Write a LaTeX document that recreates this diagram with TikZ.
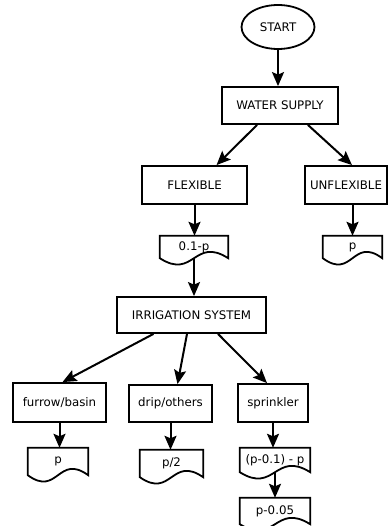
\documentclass[tikz,border=0pt]{standalone}
\usepackage{fontspec}
\setmainfont{DejaVu Sans}
\usetikzlibrary{arrows.meta,shapes.geometric,calc}

\tikzset{
  box/.style={draw, line width=1.8pt, minimum height=37pt, inner sep=0pt},
  docbox/.style={minimum height=24pt, inner sep=0pt},
  flow/.style={-{Stealth[length=14pt,width=12pt,inset=2.5pt]}, line width=2pt},
}
% document symbol drawn round a named node
\newcommand{\docshape}[1]{%
  \draw[line width=1.8pt] (#1.south east) -- (#1.north east) -- (#1.north west)
    -- (#1.south west) .. controls ($(#1.south)+(0,22)$) and ($(#1.south)+(0,-22)$) .. cycle;}

\begin{document}
\begin{tikzpicture}[x=1pt, y=-1pt, font=\fontsize{11.8}{14}\selectfont]
  \useasboundingbox (0,0) rectangle (388,526);
  % top part
  \node[ellipse, draw, line width=1.8pt, minimum width=73pt, minimum height=44pt] (start) at (278,27) {START};
  \node[box, minimum width=116pt] (water) at (280,105.5) {WATER SUPPLY};
  \node[box, minimum width=105pt, minimum height=38pt] (flex) at (194.5,185) {FLEXIBLE};
  \node[box, minimum width=82pt, minimum height=38pt] (unflex) at (346,185) {UNFLEXIBLE};
  \node[docbox, minimum width=68pt, minimum height=22pt] (flexp) at (194,247) {0.1-p};
  \node[docbox, minimum width=59pt, minimum height=22pt] (unflexp) at (352.5,247) {p};
  % irrigation part
  \node[box, minimum width=149pt, minimum height=36pt] (irr) at (191.5,315) {IRRIGATION SYSTEM};
  \node[box, minimum width=93pt, minimum height=39pt] (furrow) at (59.5,402.5) {furrow/basin};
  \node[box, minimum width=83pt] (drip) at (170.5,403.5) {drip/others};
  \node[box, minimum width=70pt, minimum height=38pt] (sprinkler) at (273,403) {sprinkler};
  \node[docbox, minimum width=60pt, minimum height=27pt] (furrowp) at (58,461.5) {p};
  \node[docbox, minimum width=63pt, minimum height=27pt] (dripp) at (171.5,463.5) {p/2};
  \node[docbox, minimum width=70pt] (sprinp) at (275,460) {(p-0.1) - p};
  \node[docbox, minimum width=70pt, minimum height=26pt] (lastp) at (275,511) {p-0.05};
  \foreach \d in {flexp,unflexp,furrowp,dripp,sprinp,lastp} {\docshape{\d}}
  % arrows
  \draw[flow] (start.south) -- (start.south |- water.north);
  \draw[flow] ([xshift=36pt]water.south west) -- ([xshift=22pt]flex.north);
  \draw[flow] ([xshift=-31pt]water.south east) -- ([xshift=6pt]unflex.north);
  \draw[flow] (flex.south) -- (flex.south |- flexp.north);
  \draw[flow] (unflexp.north |- unflex.south) -- (unflexp.north);
  \draw[flow] (flexp.south) -- (flexp.south |- irr.north);
  \draw[flow] ([xshift=-38pt]irr.south) -- ([xshift=3pt]furrow.north);
  \draw[flow] ([xshift=-4.5pt]irr.south) -- ([xshift=7pt]drip.north);
  \draw[flow] ([xshift=26.5pt]irr.south) -- ([xshift=-6pt]sprinkler.north);
  \draw[flow] (furrow.south) -- (furrow.south |- furrowp.north);
  \draw[flow] (drip.south) -- (drip.south |- dripp.north);
  \draw[flow] (sprinkler.south) -- (sprinkler.south |- sprinp.north);
  \draw[flow] (sprinp.south) -- (sprinp.south |- lastp.north);
\end{tikzpicture}
\end{document}
